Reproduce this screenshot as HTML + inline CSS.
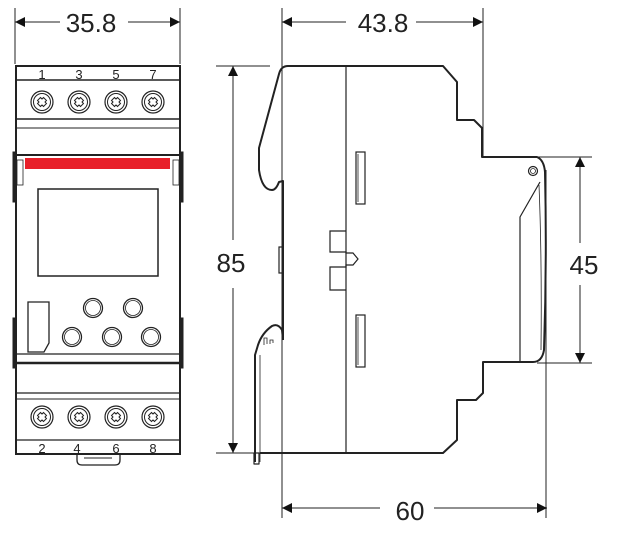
<!DOCTYPE html>
<html><head><style>html,body{margin:0;padding:0;background:#fff}svg{display:block}text{font-family:"Liberation Sans",sans-serif;fill:#222}</style></head><body>
<svg width="617" height="537" viewBox="0 0 617 537" xmlns="http://www.w3.org/2000/svg">
<defs>
<marker id="a" viewBox="0 0 10 10" refX="10" refY="5" markerWidth="12" markerHeight="10" markerUnits="userSpaceOnUse" orient="auto-start-reverse"><path d="M0,0L10,5L0,10z" fill="#111"/></marker>
<g id="scr"><circle r="11" fill="#fff" stroke="#222" stroke-width="1.2"/><circle r="8.5" fill="none" stroke="#222" stroke-width="1"/><path d="M-4.5,-1.5L-1.5,-4.5L0,-3L1.5,-4.5L4.5,-1.5L3,0L4.5,1.5L1.5,4.5L0,3L-1.5,4.5L-4.5,1.5L-3,0Z" fill="none" stroke="#222" stroke-width="1"/></g>
</defs>
<g stroke="#222" fill="none">
<line x1="15" y1="8" x2="15" y2="64" stroke-width="1"/>
<line x1="180" y1="8" x2="180" y2="64" stroke-width="1"/>
<line x1="15" y1="22" x2="60" y2="22" stroke-width="1" marker-start="url(#a)"/>
<line x1="128" y1="22" x2="180" y2="22" stroke-width="1" marker-end="url(#a)"/>
<rect x="16" y="66" width="164" height="388" stroke-width="2"/>
<line x1="16" y1="80" x2="180" y2="80" stroke-width="1.5"/>
<line x1="16" y1="119" x2="180" y2="119" stroke-width="1.5"/>
<line x1="16" y1="128" x2="180" y2="128" stroke-width="1"/>
<line x1="16" y1="155" x2="180" y2="155" stroke-width="2"/>
<rect x="13" y="152" width="3" height="50" fill="#222"/>
<rect x="180" y="152" width="3" height="50" fill="#222"/>
<rect x="17" y="160" width="6" height="25" stroke-width="0.8"/>
<rect x="173" y="160" width="6" height="25" stroke-width="0.8"/>
<rect x="25" y="158" width="145" height="11" fill="#e8202a" stroke="none"/>
<rect x="38" y="189" width="120" height="87" stroke-width="1.5"/>
<path d="M28,302H49V343L44,352H28Z" stroke-width="1.3"/>
<circle cx="93" cy="308" r="9.5" stroke-width="1.3"/><circle cx="93" cy="308" r="7.5" stroke-width="0.8"/>
<circle cx="133" cy="308" r="9.5" stroke-width="1.3"/><circle cx="133" cy="308" r="7.5" stroke-width="0.8"/>
<circle cx="72" cy="337" r="9.5" stroke-width="1.3"/><circle cx="72" cy="337" r="7.5" stroke-width="0.8"/>
<circle cx="112" cy="337" r="9.5" stroke-width="1.3"/><circle cx="112" cy="337" r="7.5" stroke-width="0.8"/>
<circle cx="151" cy="337" r="9.5" stroke-width="1.3"/><circle cx="151" cy="337" r="7.5" stroke-width="0.8"/>
<line x1="16" y1="354" x2="180" y2="354" stroke-width="1.3"/>
<line x1="16" y1="363" x2="180" y2="363" stroke-width="2.5"/>
<rect x="13" y="318" width="3" height="50" fill="#222"/>
<rect x="180" y="318" width="3" height="50" fill="#222"/>
<line x1="16" y1="393" x2="180" y2="393" stroke-width="1.3"/>
<line x1="16" y1="399" x2="180" y2="399" stroke-width="1"/>
<line x1="16" y1="440" x2="180" y2="440" stroke-width="1.3"/>
<path d="M77,454V460Q77,465 82,465H115Q120,465 120,460V454" stroke-width="1.3"/>
<line x1="84" y1="458" x2="112" y2="458" stroke-width="1"/>
</g>
<use href="#scr" x="42" y="102"/><use href="#scr" x="79" y="102"/><use href="#scr" x="116" y="102"/><use href="#scr" x="153" y="102"/>
<use href="#scr" x="42" y="417"/><use href="#scr" x="79" y="417"/><use href="#scr" x="116" y="417"/><use href="#scr" x="153" y="417"/>
<g font-size="13" text-anchor="middle">
<text x="42" y="79">1</text><text x="79" y="79">3</text><text x="116" y="79">5</text><text x="153" y="79">7</text>
<text x="42" y="453">2</text><text x="77" y="453">4</text><text x="116" y="453">6</text><text x="153" y="453">8</text>
</g>
<text x="91" y="32" font-size="26" text-anchor="middle">35.8</text>
<g stroke="#222" fill="none" stroke-width="1">
<line x1="282" y1="8" x2="282" y2="518"/>
<line x1="483" y1="8" x2="483" y2="157"/>
<line x1="282" y1="22" x2="346" y2="22" marker-start="url(#a)"/>
<line x1="416" y1="22" x2="483" y2="22" marker-end="url(#a)"/>
<line x1="216" y1="66" x2="270" y2="66"/>
<line x1="216" y1="453" x2="270" y2="453"/>
<line x1="233" y1="66" x2="233" y2="240" marker-start="url(#a)"/>
<line x1="233" y1="288" x2="233" y2="453" marker-end="url(#a)"/>
<line x1="537" y1="157" x2="592" y2="157"/>
<line x1="537" y1="363" x2="592" y2="363"/>
<line x1="580" y1="157" x2="580" y2="243" marker-start="url(#a)"/>
<line x1="580" y1="285" x2="580" y2="363" marker-end="url(#a)"/>
<line x1="546" y1="170" x2="546" y2="518"/>
<line x1="282" y1="508" x2="380" y2="508" marker-start="url(#a)"/>
<line x1="434" y1="508" x2="547" y2="508" marker-end="url(#a)"/>
</g>
<text x="383" y="32" font-size="26" text-anchor="middle">43.8</text>
<text x="231" y="272" font-size="26" text-anchor="middle">85</text>
<text x="584" y="274" font-size="26" text-anchor="middle">45</text>
<text x="410" y="520" font-size="26" text-anchor="middle">60</text>
<g stroke="#222" fill="none" stroke-width="2" stroke-linejoin="round">
<path d="M288,66H443L457,82V120H474L482,128V157H537Q544,160 545,172Q547,260 544,350Q542,362 533,362H483V393L476,400H457V440L443,453H260"/>
<path d="M288,66Q281,66 279,74L259,148V170Q262,190 272,190Q276,190 279,182L283,181V340"/>
<path d="M283,340L282,330Q278,323 272,326Q262,333 258,345L255,355V462"/>
<rect x="254" y="453" width="5" height="11" stroke-width="1.2"/>
</g>
<g stroke="#222" fill="none" stroke-width="1.2">
<line x1="346" y1="66" x2="346" y2="453"/>
<rect x="356" y="152" width="9" height="52"/><line x1="358" y1="154" x2="358" y2="202" stroke-width="0.8"/>
<rect x="356" y="315" width="9" height="52"/><line x1="358" y1="317" x2="358" y2="365" stroke-width="0.8"/>
<path d="M346,231H330V252H346V253H353L358,259L353,265H346V267H330V290H346"/>
<rect x="279" y="247" width="4" height="26"/>
<line x1="260" y1="355" x2="260" y2="462" stroke-width="0.8"/>
<path d="M264,345V338H267V344M270,344V340H273V343" stroke-width="0.8"/>
<path d="M520,362V217L540,182" stroke-width="1.2"/>
<path d="M539,185Q542,260 541,350" stroke-width="0.8"/>
<circle cx="533" cy="171" r="4.5"/><circle cx="533" cy="171" r="2.5" stroke-width="0.8"/>
</g>
</svg>
</body></html>
